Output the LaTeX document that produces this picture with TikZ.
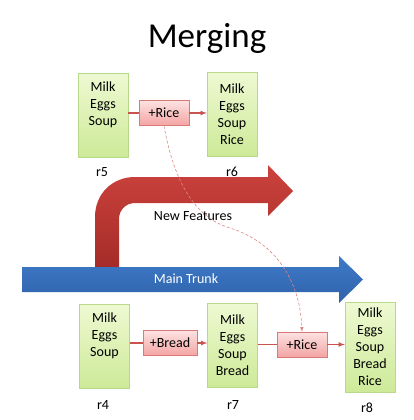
\documentclass[tikz,border=0pt]{standalone}
\usepackage{fontspec}
\setmainfont{Carlito}
\definecolor{boxline}{HTML}{B8D88A}
\definecolor{boxtop}{HTML}{EEF9D2}
\definecolor{boxbot}{HTML}{CDEA98}
\definecolor{chgline}{HTML}{D97A78}
\definecolor{chgtop}{HTML}{FDE2E2}
\definecolor{chgbot}{HTML}{F3A4A3}
\definecolor{conn}{HTML}{C9534F}
\definecolor{feattop}{HTML}{CC423C}
\definecolor{featbot}{HTML}{A52C29}
\definecolor{trunktop}{HTML}{3E7AC8}
\definecolor{trunkbot}{HTML}{2F62AA}
\begin{document}
\begin{tikzpicture}[x=1pt, y=-1pt, >=latex,
    rev/.style={draw=boxline, top color=boxtop, bottom color=boxbot, minimum width=50pt, minimum height=84pt, align=center, inner sep=2pt, font=\fontsize{14}{17}\selectfont},
    change/.style={draw=chgline, top color=chgtop, bottom color=chgbot, minimum height=25pt, inner sep=3pt, font=\fontsize{14}{16}\selectfont},
    link/.style={draw=conn, line width=1.1pt},
    lbl/.style={font=\fontsize{14}{16}\selectfont}]
    \useasboundingbox (0, 0) rectangle (413, 420);
    \node [font=\fontsize{35}{42}\selectfont] (title) at (207, 38) {Merging};
    % new features branch
    \shade [top color=feattop, bottom color=featbot] (95, 267) -- (95, 217) .. controls (95, 194) and (112, 177) .. (135, 177) -- (268, 177) -- (268, 165) -- (293, 191) -- (268, 216) -- (268, 203) -- (135, 203) .. controls (126, 203) and (119, 210) .. (119, 219) -- (119, 267) -- cycle;
    \node [lbl] (feat) at (193, 216) {New Features};
    % main trunk
    \shade [top color=trunktop, bottom color=trunkbot] (22, 267) -- (339, 267) -- (339, 256) -- (363, 279.5) -- (339, 303) -- (339, 292) -- (22, 292) -- cycle;
    \node [lbl, text=white] (trunk) at (186, 279) {Main Trunk};
    % revisions on the branch
    \node [rev] (r5) at (103, 115) {Milk\\Eggs\\Soup\\\strut};
    \node [rev] (r6) at (232, 114) {Milk\\Eggs\\Soup\\Rice};
    \node [change, minimum width=50pt] (rice1) at (164, 113) {+Rice};
    \node [lbl] (l5) at (102, 172) {r5};
    \node [lbl] (l6) at (232, 172) {r6};
    % revisions on the trunk
    \node [rev] (r4) at (104.5, 346) {Milk\\Eggs\\Soup\\\strut};
    \node [rev] (r7) at (232.5, 345) {Milk\\Eggs\\Soup\\Bread};
    \node [rev, minimum height=90pt] (r8) at (370, 347) {Milk\\Eggs\\Soup\\Bread\\Rice};
    \node [change, minimum width=54pt] (bread) at (170, 343) {+Bread};
    \node [change, minimum width=50pt] (rice2) at (302, 344.5) {+Rice};
    \node [lbl] (l4) at (103, 405) {r4};
    \node [lbl] (l7) at (233, 405) {r7};
    \node [lbl] (l8) at (367, 408) {r8};
    % connectors
    \draw [link] (r5.east |- rice1) -- (rice1.west);
    \draw [link, ->] (rice1.east) -- (rice1 -| r6.west);
    \draw [link] (r4.east |- bread) -- (bread.west);
    \draw [link, ->] (bread.east) -- (bread -| r7.west);
    \draw [link] (r7.east |- rice2) -- (rice2.west);
    \draw [link, ->] (rice2.east) -- (rice2 -| r8.west);
    \draw [conn!70, densely dashed, line width=0.6pt, ->] (rice1.south) .. controls (170, 160) and (185, 215) .. (230, 228) .. controls (275, 242) and (300, 280) .. (rice2.north);
\end{tikzpicture}
\end{document}
